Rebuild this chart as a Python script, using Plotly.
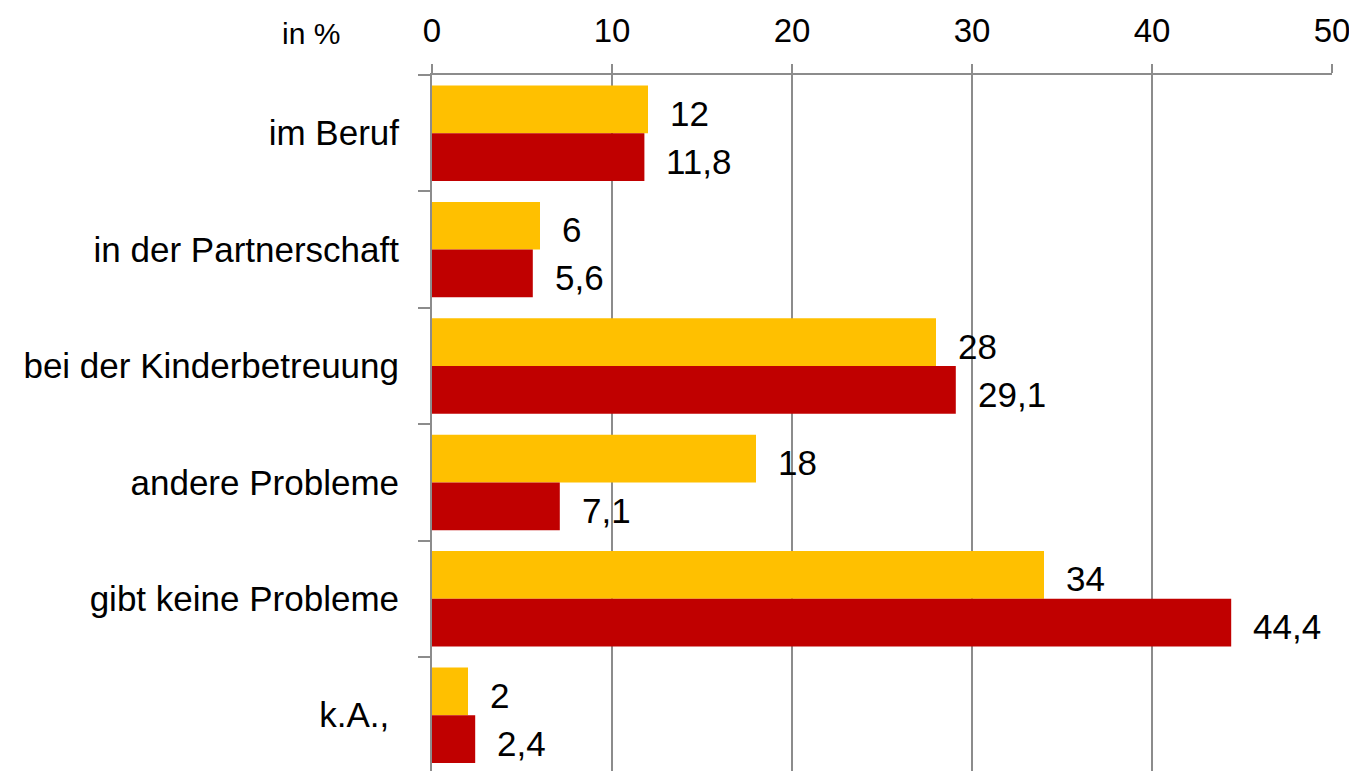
import plotly.graph_objects as go

# Data
categories = ["im Beruf", "in der Partnerschaft", "bei der Kinderbetreuung",
              "andere Probleme", "gibt keine Probleme", "k.A.,\u00a0"]
series_a = [12, 6, 28, 18, 34, 2]
series_b = [11.8, 5.6, 29.1, 7.1, 44.4, 2.4]
x_ticks = [0, 10, 20, 30, 40, 50]

YELLOW = "#FFC000"
RED = "#C00000"
GRID = "#8C8C8C"
FONT = "Liberation Sans, Arial, sans-serif"


def fmt(v):
    s = ("%g" % v)
    return s.replace(".", ",")


fig = go.Figure()
fig.add_trace(go.Bar(y=categories, x=series_a, orientation="h", name="A",
                     marker=dict(color=YELLOW, line=dict(width=0))))
fig.add_trace(go.Bar(y=categories, x=series_b, orientation="h", name="B",
                     marker=dict(color=RED, line=dict(width=0))))

# value labels beside the bars
annotations = []
for cat, a, b in zip(categories, series_a, series_b):
    annotations.append(dict(x=a, y=cat, xref="x", yref="y", text=fmt(a),
                            showarrow=False, xanchor="left", xshift=20, yshift=20,
                            font=dict(size=35, color="black", family=FONT)))
    annotations.append(dict(x=b, y=cat, xref="x", yref="y", text=fmt(b),
                            showarrow=False, xanchor="left", xshift=20, yshift=-28,
                            font=dict(size=35, color="black", family=FONT)))

annotations.append(dict(x=-0.135, y=1.06, xref="paper", yref="paper", text="in %",
                        showarrow=False, xanchor="center", yanchor="middle",
                        font=dict(size=30, color="black", family=FONT)))

# page body has an 8px margin, so the figure is 8px smaller than the window
fig.update_layout(
    width=1349, height=763,
    margin=dict(l=424, r=25, t=67, b=0),
    plot_bgcolor="white", paper_bgcolor="white",
    barmode="group", bargap=0.18, bargroupgap=0,
    showlegend=False,
    font=dict(family=FONT, size=34, color="black"),
    annotations=annotations,
)

fig.update_xaxes(
    side="top", range=[0, 50], tickvals=x_ticks, automargin=False,
    showgrid=True, gridcolor=GRID, gridwidth=2,
    showline=True, linecolor=GRID, linewidth=2,
    ticks="outside", ticklen=9, tickwidth=2, tickcolor=GRID,
    ticklabelstandoff=9, zeroline=False,
    tickfont=dict(size=33, color="black", family=FONT),
)

fig.update_yaxes(
    type="category", range=[5.479, -0.5], automargin=False,
    showgrid=False, showline=True, linecolor=GRID, linewidth=2,
    ticks="outside", tickson="boundaries", ticklen=12, tickwidth=2, tickcolor=GRID,
    ticklabelstandoff=24,
    tickfont=dict(size=35, color="black", family=FONT),
)

fig.write_html("out.html")
